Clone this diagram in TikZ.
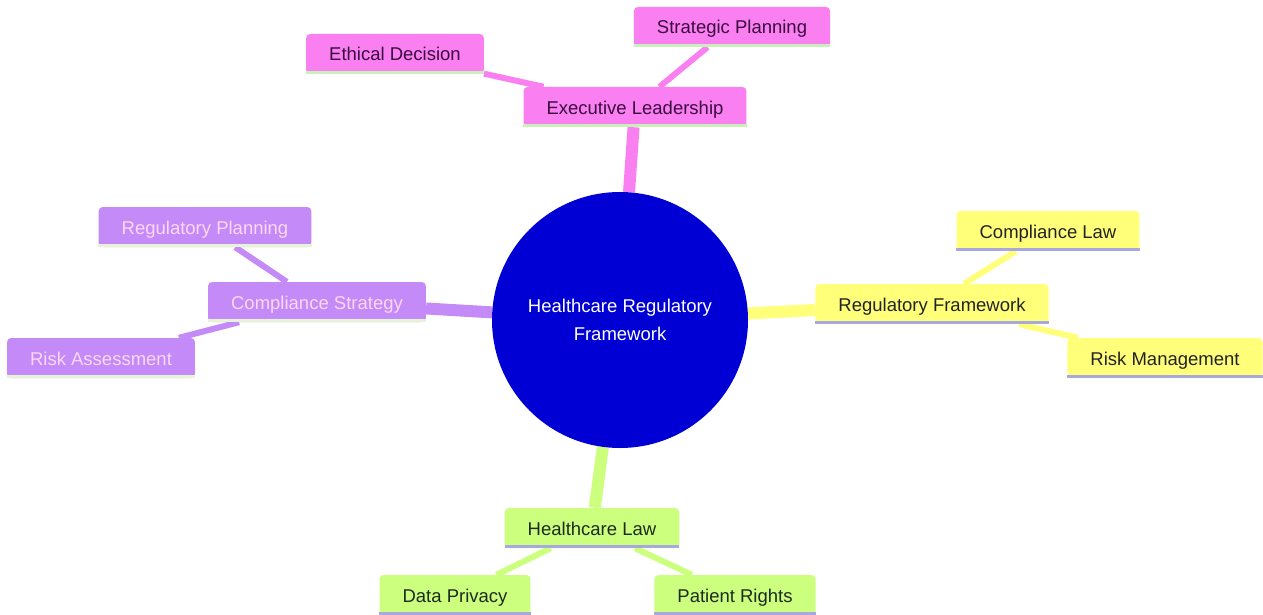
\documentclass[tikz,border=0pt]{standalone}
\usepackage{fontspec}
\setmainfont{Liberation Sans}
\pgfdeclarelayer{background}
\pgfsetlayers{background,main}
\definecolor{pinkF}{HTML}{FA80F2}
\definecolor{pinkT}{HTML}{3A0A3E}
\definecolor{yelF}{HTML}{FFFF7A}
\definecolor{yelT}{HTML}{222222}
\definecolor{purF}{HTML}{C48AF8}
\definecolor{purT}{HTML}{FAD8F6}
\definecolor{grnF}{HTML}{CCFF7E}
\definecolor{grnT}{HTML}{1E2A1E}
\definecolor{rootF}{HTML}{0000D4}
\definecolor{lineL}{HTML}{A8A8E0}
\definecolor{lineG}{HTML}{C8F0B8}
\definecolor{lineP}{HTML}{E6F4D6}
\begin{document}
\begin{tikzpicture}[x=1pt,y=-1pt,
  every node/.style={font=\fontsize{18.5}{22}\selectfont},
  box/.style={rectangle,rounded corners=4pt,minimum height=40pt,inner xsep=23pt,inner ysep=0pt,text height=15.5pt,text depth=1.5pt},
  pinkbox/.style={box,fill=pinkF,text=pinkT},
  yelbox/.style={box,fill=yelF,text=yelT},
  purbox/.style={box,fill=purF,text=purT},
  grnbox/.style={box,fill=grnF,text=grnT},
  rootnode/.style={circle,fill=rootF,text=white,minimum size=256pt,align=center,inner sep=0pt},
  lvlone/.style={line width=12pt},
  lvltwo/.style={line width=6pt},
  uline/.style={line width=3pt}
]
\useasboundingbox (0,0) rectangle (1263,615);
\node[rootnode] (root) at (620,320) {Healthcare Regulatory\\[6pt]Framework};
\node[pinkbox] (exec) at (635,107) {Executive Leadership};
\node[pinkbox] (strat) at (732,27) {Strategic Planning};
\node[pinkbox] (eth) at (395,54) {Ethical Decision};
\node[yelbox] (regf) at (932,304) {Regulatory Framework};
\node[yelbox] (claw) at (1048,231) {Compliance Law};
\node[yelbox] (risk) at (1165,358) {Risk Management};
\node[purbox] (cs) at (317,302) {Compliance Strategy};
\node[purbox] (rp) at (205,227) {Regulatory Planning};
\node[purbox] (ra) at (101,358) {Risk Assessment};
\node[grnbox] (hl) at (592,528) {Healthcare Law};
\node[grnbox] (dp) at (455,595) {Data Privacy};
\node[grnbox] (pr) at (735,595) {Patient Rights};
\begin{pgfonlayer}{background}
\draw[lvlone,pinkF] (root) -- (exec);
\draw[lvltwo,pinkF] (exec) -- (strat);
\draw[lvltwo,pinkF] (exec) -- (eth);
\draw[lvlone,yelF] (root) -- (regf);
\draw[lvltwo,yelF] (regf) -- (claw);
\draw[lvltwo,yelF] (regf) -- (risk);
\draw[lvlone,purF] (root) -- (cs);
\draw[lvltwo,purF] (cs) -- (rp);
\draw[lvltwo,purF] (cs) -- (ra);
\draw[lvlone,grnF] (root) -- (hl);
\draw[lvltwo,grnF] (hl) -- (dp);
\draw[lvltwo,grnF] (hl) -- (pr);
\end{pgfonlayer}
\foreach \n/\c in {exec/lineG,strat/lineG,eth/lineG,regf/lineL,claw/lineL,risk/lineL,cs/lineP,rp/lineP,ra/lineP,hl/lineL,pr/lineL,dp/lineL}{
  \draw[uline,\c] ([yshift=1.5pt]\n.south west) -- ([yshift=1.5pt]\n.south east);
}
\end{tikzpicture}
\end{document}
